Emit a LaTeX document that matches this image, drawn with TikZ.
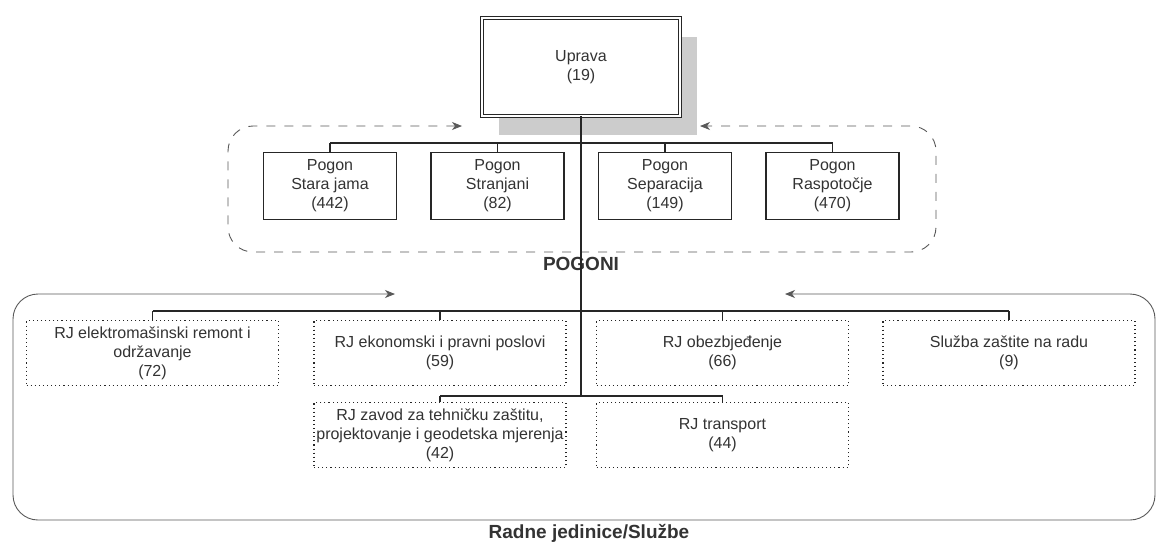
\documentclass[tikz,border=0pt]{standalone}
\usepackage{fontspec}
\setmainfont{Liberation Sans}
\usetikzlibrary{arrows.meta,shadows}
\begin{document}
\begin{tikzpicture}[x=1pt,y=-1pt,
  txt/.style={font=\fontsize{16}{19}\selectfont, text=black!80, align=center, inner sep=0pt},
  ubox/.style={txt, draw=black!85, double, double distance=2.2pt, line width=1.1pt,
    minimum width=197.6pt, minimum height=97.6pt, fill=white,
    drop shadow={shadow xshift=17pt, shadow yshift=-19pt, fill=black!20, opacity=1}},
  pbox/.style={txt, draw=black!85, line width=1.1pt, minimum width=133pt, minimum height=67pt, fill=white},
  rbox/.style={txt, draw=black!85, line width=1.1pt, dash pattern=on 1.1pt off 3pt,
    minimum width=252pt, minimum height=65pt, fill=white},
  conn/.style={draw=black!85, line width=1.1pt},
  grp/.style={font=\fontsize{19}{22}\selectfont\bfseries, text=black!80, inner sep=0pt},
  frame/.style={line width=0.9pt, draw=black!65, rounded corners=25pt},
  dashframe/.style={frame, dash pattern=on 9pt off 9pt},
  tipb/.style={{Stealth[length=10pt,width=8pt,inset=3pt]}-{Stealth[length=10pt,width=8pt,inset=3pt]}}
]
\useasboundingbox (0,0) rectangle (1158,542);

% group frames
\coordinate (pa) at (462,126);
\coordinate (pb) at (700,126);
\draw[dashframe, tipb] (pa) -- (228,126) -- (228,252) -- (936,252) -- (936,126) -- (pb);
\coordinate (ra) at (395,294);
\coordinate (rb) at (785,294);
\draw[frame, tipb] (ra) -- (13,294) -- (13,520) -- (1155,520) -- (1155,294) -- (rb);

% top node
\node[ubox] (up) at (581,67) {Uprava\\(19)};

% Pogoni
\node[pbox] (p1) at (330,186) {Pogon\\Stara jama\\(442)};
\node[pbox] (p2) at (497.5,186) {Pogon\\Stranjani\\(82)};
\node[pbox] (p3) at (665,186) {Pogon\\Separacija\\(149)};
\node[pbox] (p4) at (832.5,186) {Pogon\\Raspotočje\\(470)};
\node[grp] (pg) at (581,264) {POGONI};

% RJ
\node[rbox] (r1) at (152.5,353) {RJ elektromašinski remont i\\održavanje\\(72)};
\node[rbox] (r2) at (440,353) {RJ ekonomski i pravni poslovi\\(59)};
\node[rbox] (r3) at (722.5,353) {RJ obezbjeđenje\\(66)};
\node[rbox] (r4) at (1009,353) {Služba zaštite na radu\\(9)};
\node[rbox] (r5) at (440,435) {RJ zavod za tehničku zaštitu,\\projektovanje i geodetska mjerenja\\(42)};
\node[rbox] (r6) at (722.5,435) {RJ transport\\(44)};
\node[grp] (rg) at (589,533) {Radne jedinice/Službe};

% connectors
\coordinate (j0) at (581,143);
\coordinate (j1) at (581,311);
\coordinate (j2) at (581,396);
\draw[conn] (up.south) -- (j2);
\draw[conn] (p1.north |- j0) -- (p4.north |- j0);
\foreach \n in {p1,p2,p3,p4} \draw[conn] (\n.north |- j0) -- (\n.north);
\draw[conn] (r1.north |- j1) -- (r4.north |- j1);
\foreach \n in {r1,r2,r3,r4} \draw[conn] (\n.north |- j1) -- (\n.north);
\draw[conn] (r5.north |- j2) -- (r6.north |- j2);
\foreach \n in {r5,r6} \draw[conn] (\n.north |- j2) -- (\n.north);
\end{tikzpicture}
\end{document}
